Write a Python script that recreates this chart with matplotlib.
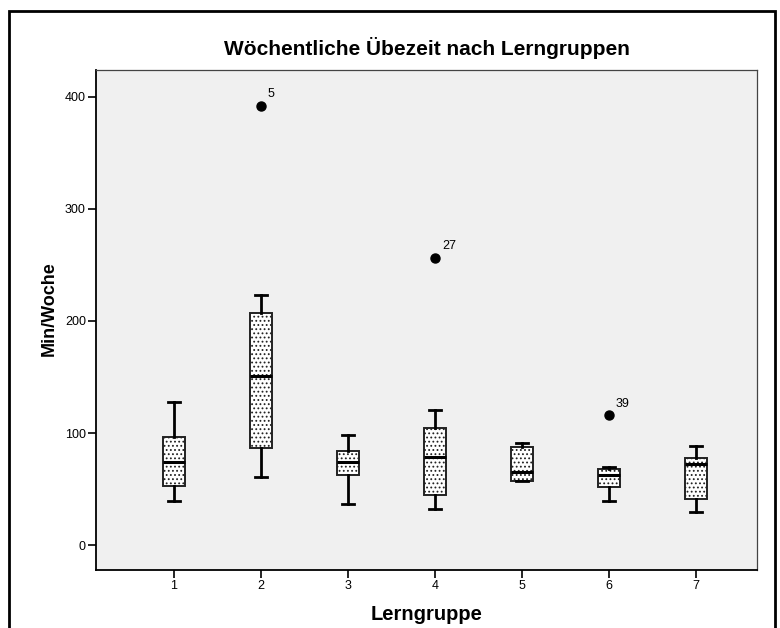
import matplotlib.pyplot as plt
from matplotlib.patches import Rectangle

plt.rcParams['font.family'] = ['Liberation Sans', 'DejaVu Sans']
plt.rcParams['hatch.color'] = '#333333'
plt.rcParams['hatch.linewidth'] = 0.8

# Übezeit in Min/Woche je Lerngruppe (Boxplot-Kennwerte)
gruppen = [1, 2, 3, 4, 5, 6, 7]
whisker_unten = [39, 61, 37, 32, 57, 39.5, 29.5]
q1 = [52.5, 87, 62.5, 44.5, 57.5, 51.5, 41]
median = [74, 151, 74, 78.5, 65, 62.5, 72]
q3 = [96.5, 207.5, 84, 104.5, 87.5, 68, 78]
whisker_oben = [128, 223, 98.5, 120.5, 91.5, 69.5, 88.5]
ausreisser = [[], [392], [], [256.5], [], [116], []]
fall_nr = [[], ['5'], [], ['27'], [], ['39'], []]

stats = []
for i in range(len(gruppen)):
    stats.append(dict(whislo=whisker_unten[i], q1=q1[i], med=median[i],
                      q3=q3[i], whishi=whisker_oben[i], fliers=ausreisser[i]))

fig = plt.figure(figsize=(7.8, 6.28), dpi=100)
ax = fig.add_axes([0.1235, 0.0928, 0.8470, 0.7957])
ax.set_facecolor('#f0f0f0')

bp = ax.bxp(stats, positions=gruppen, widths=0.25, capwidths=0.14,
            patch_artist=True, showfliers=True,
            boxprops=dict(facecolor='white', edgecolor='#222222', linewidth=1.4, hatch='....'),
            medianprops=dict(color='black', linewidth=2.2),
            whiskerprops=dict(color='black', linewidth=2.0),
            capprops=dict(color='black', linewidth=2.0),
            flierprops=dict(marker='o', markerfacecolor='black', markeredgecolor='black',
                            markersize=6.5))

for g, werte, nrn in zip(gruppen, ausreisser, fall_nr):
    for w, n in zip(werte, nrn):
        ax.annotate(n, (g, w), xytext=(5, 4), textcoords='offset points',
                    fontsize=9, va='bottom', ha='left')

ax.set_xlim(0.107, 7.70)
ax.set_ylim(-22, 424)
ax.set_xticks(gruppen)
ax.set_yticks([0, 100, 200, 300, 400])
ax.tick_params(length=6, width=1.2, labelsize=9, pad=1.5, colors='black')

for s in ['top', 'right']:
    ax.spines[s].set_color('#444444')
    ax.spines[s].set_linewidth(0.9)
for s in ['left', 'bottom']:
    ax.spines[s].set_linewidth(1.3)

ax.set_title('Wöchentliche Übezeit nach Lerngruppen', fontsize=15, fontweight='bold', pad=11)
ax.set_xlabel('Lerngruppe', fontsize=14.5, fontweight='bold', labelpad=9)
ax.set_ylabel('Min/Woche', fontsize=13, fontweight='bold')
ax.yaxis.set_label_coords(-0.058, 0.522)

# Rahmen um die ganze Grafik
fig.patches.append(Rectangle((9 / 780, -0.1), 766 / 780, 1.1 - 11 / 628,
                             transform=fig.transFigure, fill=False,
                             edgecolor='black', linewidth=2.0))

fig.savefig('out.png', dpi=100)
